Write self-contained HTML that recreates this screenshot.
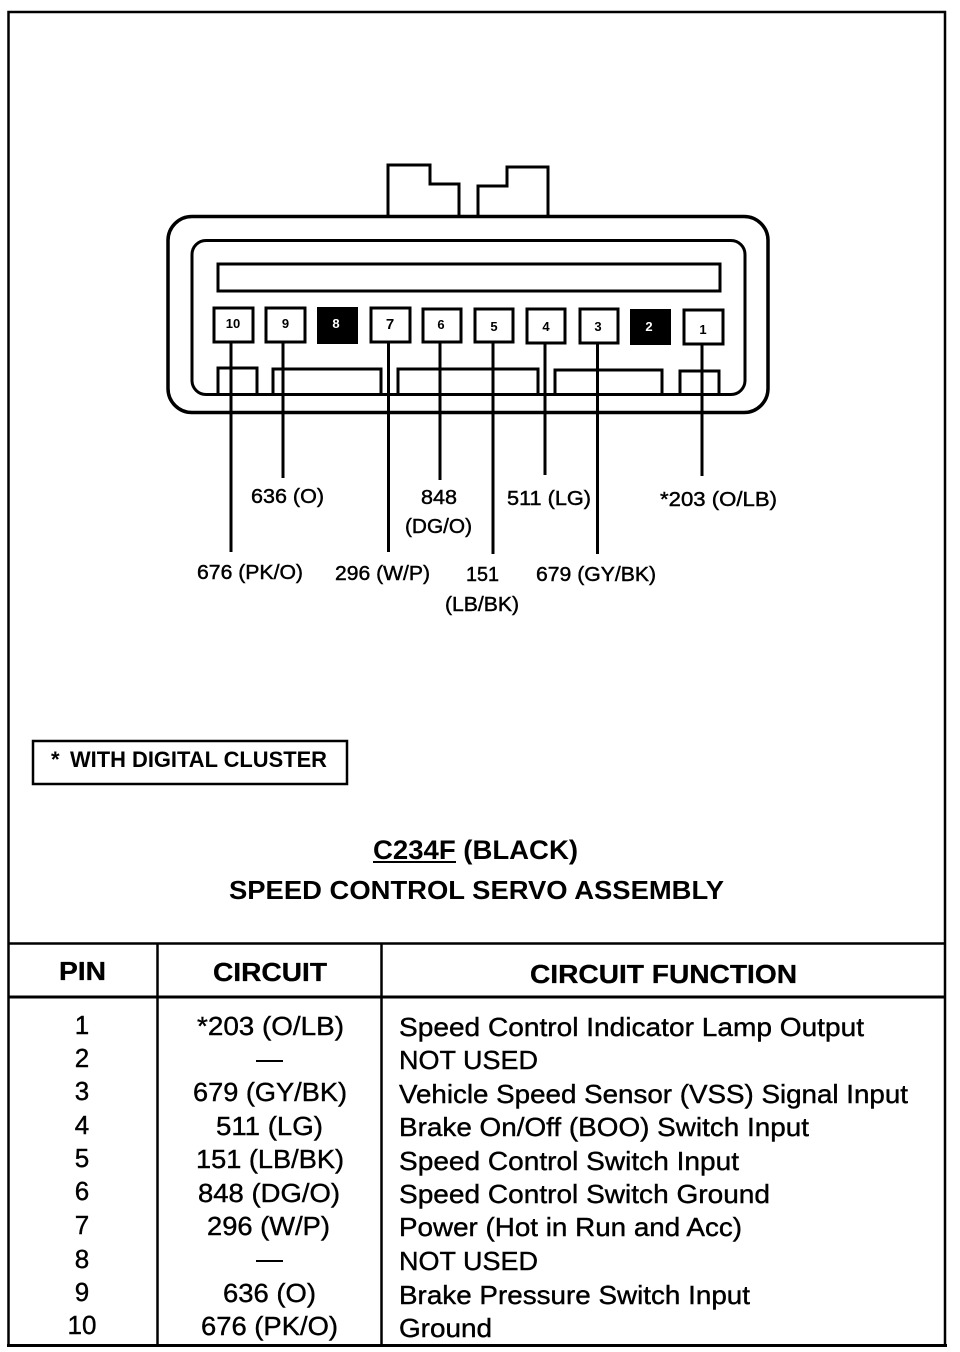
<!DOCTYPE html>
<html><head><meta charset="utf-8">
<style>
html,body{margin:0;padding:0;background:#fff}
svg{display:block}
text{font-family:"Liberation Sans",sans-serif;fill:#000}
.l{font-size:20px;stroke:#000;stroke-width:.45}
.r{font-size:26px;stroke:#000;stroke-width:.4}
.h{font-size:26px;font-weight:bold;stroke:#000;stroke-width:.3}
.p{font-size:13px;font-weight:bold}
</style></head><body>
<svg width="960" height="1352" viewBox="0 0 960 1352" xmlns="http://www.w3.org/2000/svg">
<rect width="960" height="1352" fill="#fff"/>
<g fill="none" stroke="#000">
<!-- frame -->
<path d="M8.500 1345V12H945V1345" stroke-width="2.500"/>
<path d="M7 1345.500H947" stroke-width="3"/>
<!-- table lines -->
<path d="M8 943.500H945" stroke-width="2.500"/>
<path d="M8 997H945" stroke-width="3"/>
<path d="M157.500 943V1345M381.500 943V1345" stroke-width="2.500"/>
<!-- connector tabs -->
<path d="M388 216V165H430V184H459V217M478 217V186H507V167H548V216" stroke-width="3"/>
<!-- body -->
<rect x="168" y="216.500" width="600" height="196" rx="24" stroke-width="3.500"/>
<rect x="192" y="240.500" width="553" height="154" rx="14" stroke-width="3"/>
<rect x="218" y="264" width="502" height="27" stroke-width="3"/>
<!-- pins -->
<g stroke-width="3">
<rect x="214" y="308" width="39" height="34"/>
<rect x="266" y="308" width="39" height="34"/>
<rect x="371" y="308" width="39" height="34"/>
<rect x="423" y="309" width="38" height="33"/>
<rect x="475" y="309" width="38" height="33"/>
<rect x="527" y="309" width="38" height="34"/>
<rect x="580" y="309" width="38" height="34"/>
<rect x="684" y="310" width="39" height="34"/>
</g>
<!-- bottom notches -->
<path d="M218 393V368H257V393M273 393V369H381V393M398 393V369H538V393M555 393V370H662V393M680 393V371H719V393" stroke-width="3"/>
<!-- wires -->
<g stroke-width="3">
<path d="M231 342V552"/><path d="M283 342V478"/><path d="M388.500 342V552"/>
<path d="M440 342V480"/><path d="M493 342V554"/><path d="M545 343V475"/>
<path d="M597.500 343V554"/><path d="M702 344V476"/>
</g>
<!-- note box -->
<rect x="33" y="741" width="314" height="43" stroke-width="2.500"/>
</g>
<rect x="317" y="307" width="41" height="37"/>
<rect x="630" y="309" width="41" height="36"/>
<g class="p" text-anchor="middle">
<text x="233" y="328">10</text><text x="285.500" y="328">9</text>
<text x="336" y="328" style="fill:#fff">8</text><text x="390" y="329" font-size="15">7</text>
<text x="441" y="329">6</text><text x="494" y="331">5</text><text x="546" y="331">4</text>
<text x="598" y="331">3</text><text x="649" y="331" style="fill:#fff">2</text><text x="703" y="334">1</text>
</g>
<g class="l">
<text x="251" y="503" textLength="73" lengthAdjust="spacingAndGlyphs">636 (O)</text>
<text x="421" y="504" textLength="36" lengthAdjust="spacingAndGlyphs">848</text>
<text x="405" y="533" textLength="67" lengthAdjust="spacingAndGlyphs">(DG/O)</text>
<text x="507" y="505" textLength="84" lengthAdjust="spacingAndGlyphs">511 (LG)</text>
<text x="660" y="506" textLength="117" lengthAdjust="spacingAndGlyphs">*203 (O/LB)</text>
<text x="197" y="579" textLength="106" lengthAdjust="spacingAndGlyphs">676 (PK/O)</text>
<text x="335" y="580" textLength="95" lengthAdjust="spacingAndGlyphs">296 (W/P)</text>
<text x="466" y="581" textLength="33" lengthAdjust="spacingAndGlyphs">151</text>
<text x="445" y="611" textLength="74" lengthAdjust="spacingAndGlyphs">(LB/BK)</text>
<text x="536" y="581" textLength="120" lengthAdjust="spacingAndGlyphs">679 (GY/BK)</text>
</g>
<text x="51" y="767" font-size="22" font-weight="bold">*</text>
<text x="70" y="767" font-size="22" font-weight="bold" textLength="257" lengthAdjust="spacingAndGlyphs">WITH DIGITAL CLUSTER</text>
<text x="373" y="859" font-size="27" font-weight="bold" textLength="205" lengthAdjust="spacingAndGlyphs">C234F (BLACK)</text>
<rect x="373" y="861" width="83" height="2"/>
<text x="229" y="899" font-size="26" font-weight="bold" textLength="495" lengthAdjust="spacingAndGlyphs">SPEED CONTROL SERVO ASSEMBLY</text>
<text class="h" x="59" y="980" textLength="47" lengthAdjust="spacingAndGlyphs">PIN</text>
<text class="h" x="213" y="981" textLength="114" lengthAdjust="spacingAndGlyphs">CIRCUIT</text>
<text class="h" x="530" y="983" textLength="267" lengthAdjust="spacingAndGlyphs">CIRCUIT FUNCTION</text>
<g class="r" text-anchor="middle">
<text x="82" y="1034">1</text><text x="82" y="1067">2</text><text x="82" y="1100">3</text>
<text x="82" y="1134">4</text><text x="82" y="1167">5</text><text x="82" y="1200">6</text>
<text x="82" y="1234">7</text><text x="82" y="1268">8</text><text x="82" y="1301">9</text><text x="82" y="1334">10</text>
</g>
<g class="r">
<text x="197" y="1035" textLength="147" lengthAdjust="spacingAndGlyphs">*203 (O/LB)</text>
<text x="193" y="1101" textLength="154" lengthAdjust="spacingAndGlyphs">679 (GY/BK)</text>
<text x="216" y="1135" textLength="107" lengthAdjust="spacingAndGlyphs">511 (LG)</text>
<text x="196" y="1168" textLength="148" lengthAdjust="spacingAndGlyphs">151 (LB/BK)</text>
<text x="198" y="1202" textLength="142" lengthAdjust="spacingAndGlyphs">848 (DG/O)</text>
<text x="207" y="1235" textLength="123" lengthAdjust="spacingAndGlyphs">296 (W/P)</text>
<text x="223" y="1302" textLength="93" lengthAdjust="spacingAndGlyphs">636 (O)</text>
<text x="201" y="1335" textLength="137" lengthAdjust="spacingAndGlyphs">676 (PK/O)</text>
<text x="399" y="1036" textLength="465" lengthAdjust="spacingAndGlyphs">Speed Control Indicator Lamp Output</text>
<text x="399" y="1069" textLength="139" lengthAdjust="spacingAndGlyphs">NOT USED</text>
<text x="399" y="1103" textLength="509" lengthAdjust="spacingAndGlyphs">Vehicle Speed Sensor (VSS) Signal Input</text>
<text x="399" y="1136" textLength="410" lengthAdjust="spacingAndGlyphs">Brake On/Off (BOO) Switch Input</text>
<text x="399" y="1170" textLength="340" lengthAdjust="spacingAndGlyphs">Speed Control Switch Input</text>
<text x="399" y="1203" textLength="371" lengthAdjust="spacingAndGlyphs">Speed Control Switch Ground</text>
<text x="399" y="1236" textLength="343" lengthAdjust="spacingAndGlyphs">Power (Hot in Run and Acc)</text>
<text x="399" y="1270" textLength="139" lengthAdjust="spacingAndGlyphs">NOT USED</text>
<text x="399" y="1304" textLength="351" lengthAdjust="spacingAndGlyphs">Brake Pressure Switch Input</text>
<text x="399" y="1337" textLength="93" lengthAdjust="spacingAndGlyphs">Ground</text>
</g>
<rect x="256" y="1060" width="27" height="2"/>
<rect x="256" y="1260" width="27" height="2"/>
</svg>
</body></html>
